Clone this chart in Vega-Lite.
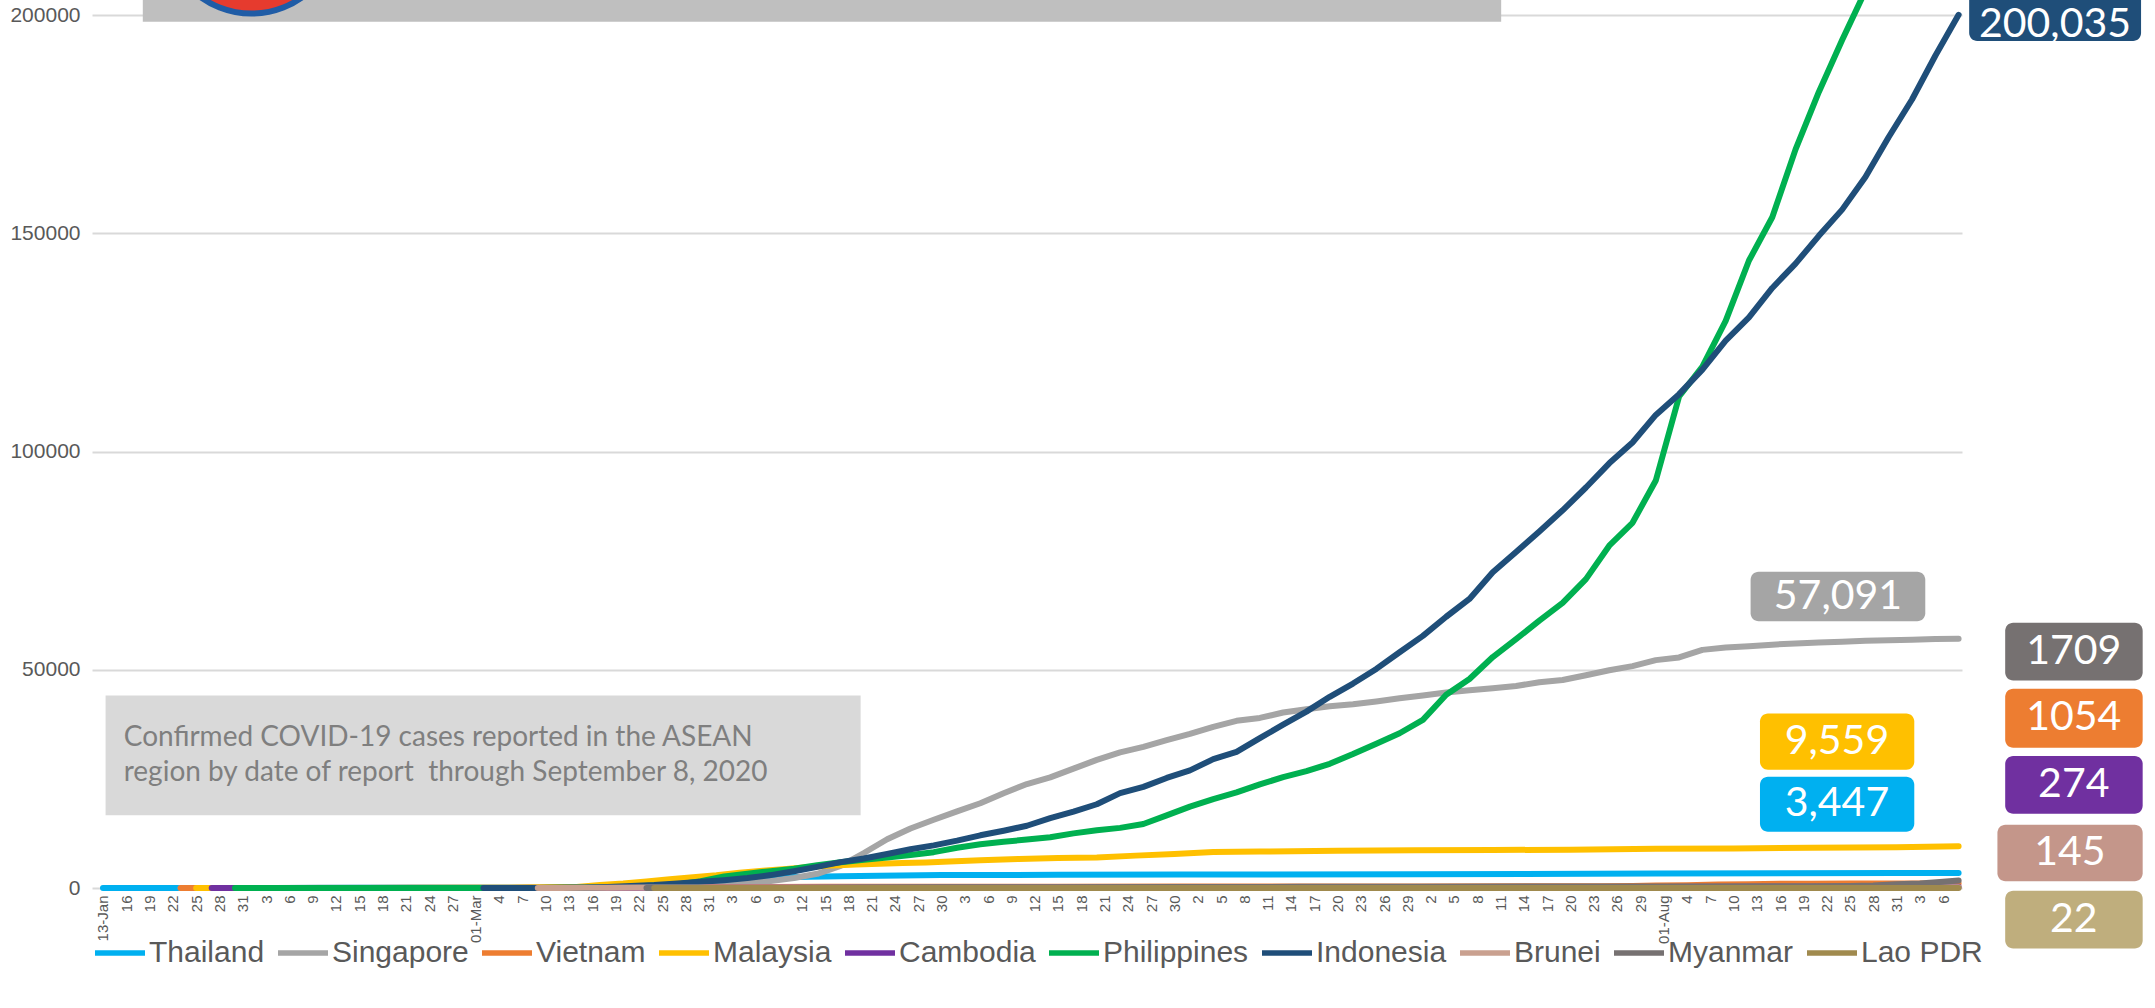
{
  "$schema": "https://vega.github.io/schema/vega-lite/v6.json",
  "width": 1870,
  "height": 873,
  "autosize": {"type": "none"},
  "padding": {"left": 92, "top": 15, "right": 193, "bottom": 120},
  "background": "white",
  "config": {"view": {"stroke": null}, "font": "Liberation Sans"},
  "datasets": {
    "cases": [
      {"country":"Thailand","date":"2020-01-13","cases":1},{"country":"Thailand","date":"2020-01-22","cases":4},{"country":"Thailand","date":"2020-01-26","cases":8},{"country":"Thailand","date":"2020-01-31","cases":19},{"country":"Thailand","date":"2020-02-05","cases":25},{"country":"Thailand","date":"2020-02-15","cases":34},{"country":"Thailand","date":"2020-02-25","cases":37},{"country":"Thailand","date":"2020-03-02","cases":42},{"country":"Thailand","date":"2020-03-08","cases":50},{"country":"Thailand","date":"2020-03-12","cases":70},{"country":"Thailand","date":"2020-03-15","cases":114},{"country":"Thailand","date":"2020-03-18","cases":212},{"country":"Thailand","date":"2020-03-21","cases":411},{"country":"Thailand","date":"2020-03-24","cases":827},{"country":"Thailand","date":"2020-03-27","cases":1136},{"country":"Thailand","date":"2020-03-30","cases":1524},{"country":"Thailand","date":"2020-04-02","cases":1875},{"country":"Thailand","date":"2020-04-05","cases":2169},{"country":"Thailand","date":"2020-04-09","cases":2423},{"country":"Thailand","date":"2020-04-13","cases":2579},{"country":"Thailand","date":"2020-04-17","cases":2700},{"country":"Thailand","date":"2020-04-22","cases":2826},{"country":"Thailand","date":"2020-04-30","cases":2954},{"country":"Thailand","date":"2020-05-15","cases":3025},{"country":"Thailand","date":"2020-05-31","cases":3081},{"country":"Thailand","date":"2020-06-30","cases":3171},{"country":"Thailand","date":"2020-07-31","cases":3310},{"country":"Thailand","date":"2020-08-31","cases":3417},{"country":"Thailand","date":"2020-09-08","cases":3447},

      {"country":"Singapore","date":"2020-01-23","cases":1},{"country":"Singapore","date":"2020-01-29","cases":10},{"country":"Singapore","date":"2020-02-04","cases":24},{"country":"Singapore","date":"2020-02-10","cases":45},{"country":"Singapore","date":"2020-02-16","cases":75},{"country":"Singapore","date":"2020-02-22","cases":89},{"country":"Singapore","date":"2020-02-28","cases":98},{"country":"Singapore","date":"2020-03-06","cases":130},{"country":"Singapore","date":"2020-03-12","cases":187},{"country":"Singapore","date":"2020-03-18","cases":313},{"country":"Singapore","date":"2020-03-22","cases":455},{"country":"Singapore","date":"2020-03-26","cases":683},{"country":"Singapore","date":"2020-03-30","cases":879},{"country":"Singapore","date":"2020-04-02","cases":1049},{"country":"Singapore","date":"2020-04-05","cases":1309},{"country":"Singapore","date":"2020-04-08","cases":1623},{"country":"Singapore","date":"2020-04-11","cases":2299},{"country":"Singapore","date":"2020-04-14","cases":3252},{"country":"Singapore","date":"2020-04-17","cases":5050},{"country":"Singapore","date":"2020-04-20","cases":8014},{"country":"Singapore","date":"2020-04-23","cases":11178},{"country":"Singapore","date":"2020-04-26","cases":13624},{"country":"Singapore","date":"2020-04-29","cases":15641},{"country":"Singapore","date":"2020-05-02","cases":17548},{"country":"Singapore","date":"2020-05-05","cases":19410},{"country":"Singapore","date":"2020-05-08","cases":21707},{"country":"Singapore","date":"2020-05-11","cases":23822},{"country":"Singapore","date":"2020-05-14","cases":25346},{"country":"Singapore","date":"2020-05-17","cases":27356},{"country":"Singapore","date":"2020-05-20","cases":29364},{"country":"Singapore","date":"2020-05-23","cases":31068},{"country":"Singapore","date":"2020-05-26","cases":32343},{"country":"Singapore","date":"2020-05-29","cases":33860},{"country":"Singapore","date":"2020-06-01","cases":35292},{"country":"Singapore","date":"2020-06-04","cases":36922},{"country":"Singapore","date":"2020-06-07","cases":38296},{"country":"Singapore","date":"2020-06-10","cases":38965},{"country":"Singapore","date":"2020-06-13","cases":40197},{"country":"Singapore","date":"2020-06-16","cases":40969},{"country":"Singapore","date":"2020-06-19","cases":41615},{"country":"Singapore","date":"2020-06-22","cases":42095},{"country":"Singapore","date":"2020-06-25","cases":42736},{"country":"Singapore","date":"2020-06-28","cases":43459},{"country":"Singapore","date":"2020-07-01","cases":44122},{"country":"Singapore","date":"2020-07-04","cases":44800},{"country":"Singapore","date":"2020-07-07","cases":45298},{"country":"Singapore","date":"2020-07-10","cases":45783},{"country":"Singapore","date":"2020-07-13","cases":46283},{"country":"Singapore","date":"2020-07-16","cases":47126},{"country":"Singapore","date":"2020-07-19","cases":47655},{"country":"Singapore","date":"2020-07-22","cases":48744},{"country":"Singapore","date":"2020-07-25","cases":49888},{"country":"Singapore","date":"2020-07-28","cases":50838},{"country":"Singapore","date":"2020-07-31","cases":52205},{"country":"Singapore","date":"2020-08-03","cases":52825},{"country":"Singapore","date":"2020-08-06","cases":54555},{"country":"Singapore","date":"2020-08-09","cases":55104},{"country":"Singapore","date":"2020-08-12","cases":55395},{"country":"Singapore","date":"2020-08-15","cases":55747},{"country":"Singapore","date":"2020-08-18","cases":56031},{"country":"Singapore","date":"2020-08-21","cases":56266},{"country":"Singapore","date":"2020-08-24","cases":56435},{"country":"Singapore","date":"2020-08-27","cases":56666},{"country":"Singapore","date":"2020-08-30","cases":56771},{"country":"Singapore","date":"2020-09-02","cases":56901},{"country":"Singapore","date":"2020-09-05","cases":57022},{"country":"Singapore","date":"2020-09-08","cases":57091},

      {"country":"Vietnam","date":"2020-01-23","cases":2},{"country":"Vietnam","date":"2020-02-01","cases":6},{"country":"Vietnam","date":"2020-02-13","cases":16},{"country":"Vietnam","date":"2020-03-05","cases":16},{"country":"Vietnam","date":"2020-03-08","cases":30},{"country":"Vietnam","date":"2020-03-15","cases":56},{"country":"Vietnam","date":"2020-03-20","cases":87},{"country":"Vietnam","date":"2020-03-25","cases":141},{"country":"Vietnam","date":"2020-03-31","cases":212},{"country":"Vietnam","date":"2020-04-07","cases":249},{"country":"Vietnam","date":"2020-04-15","cases":267},{"country":"Vietnam","date":"2020-04-30","cases":270},{"country":"Vietnam","date":"2020-05-15","cases":314},{"country":"Vietnam","date":"2020-05-31","cases":328},{"country":"Vietnam","date":"2020-06-30","cases":355},{"country":"Vietnam","date":"2020-07-24","cases":413},{"country":"Vietnam","date":"2020-07-28","cases":431},{"country":"Vietnam","date":"2020-07-31","cases":558},{"country":"Vietnam","date":"2020-08-04","cases":652},{"country":"Vietnam","date":"2020-08-08","cases":789},{"country":"Vietnam","date":"2020-08-12","cases":883},{"country":"Vietnam","date":"2020-08-16","cases":962},{"country":"Vietnam","date":"2020-08-20","cases":994},{"country":"Vietnam","date":"2020-08-25","cases":1029},{"country":"Vietnam","date":"2020-08-31","cases":1044},{"country":"Vietnam","date":"2020-09-08","cases":1054},

      {"country":"Malaysia","date":"2020-01-25","cases":3},{"country":"Malaysia","date":"2020-01-29","cases":7},{"country":"Malaysia","date":"2020-02-04","cases":10},{"country":"Malaysia","date":"2020-02-08","cases":16},{"country":"Malaysia","date":"2020-02-15","cases":22},{"country":"Malaysia","date":"2020-03-01","cases":29},{"country":"Malaysia","date":"2020-03-05","cases":50},{"country":"Malaysia","date":"2020-03-08","cases":93},{"country":"Malaysia","date":"2020-03-11","cases":149},{"country":"Malaysia","date":"2020-03-14","cases":238},{"country":"Malaysia","date":"2020-03-17","cases":673},{"country":"Malaysia","date":"2020-03-20","cases":1030},{"country":"Malaysia","date":"2020-03-23","cases":1518},{"country":"Malaysia","date":"2020-03-26","cases":2031},{"country":"Malaysia","date":"2020-03-29","cases":2470},{"country":"Malaysia","date":"2020-04-01","cases":2908},{"country":"Malaysia","date":"2020-04-04","cases":3483},{"country":"Malaysia","date":"2020-04-07","cases":3963},{"country":"Malaysia","date":"2020-04-10","cases":4346},{"country":"Malaysia","date":"2020-04-13","cases":4817},{"country":"Malaysia","date":"2020-04-16","cases":5182},{"country":"Malaysia","date":"2020-04-19","cases":5389},{"country":"Malaysia","date":"2020-04-22","cases":5532},{"country":"Malaysia","date":"2020-04-25","cases":5742},{"country":"Malaysia","date":"2020-04-28","cases":5851},{"country":"Malaysia","date":"2020-05-01","cases":6071},{"country":"Malaysia","date":"2020-05-05","cases":6383},{"country":"Malaysia","date":"2020-05-10","cases":6656},{"country":"Malaysia","date":"2020-05-15","cases":6855},{"country":"Malaysia","date":"2020-05-20","cases":7009},{"country":"Malaysia","date":"2020-05-25","cases":7417},{"country":"Malaysia","date":"2020-05-30","cases":7762},{"country":"Malaysia","date":"2020-06-04","cases":8247},{"country":"Malaysia","date":"2020-06-10","cases":8336},{"country":"Malaysia","date":"2020-06-20","cases":8535},{"country":"Malaysia","date":"2020-06-30","cases":8639},{"country":"Malaysia","date":"2020-07-10","cases":8704},{"country":"Malaysia","date":"2020-07-20","cases":8779},{"country":"Malaysia","date":"2020-07-31","cases":8976},{"country":"Malaysia","date":"2020-08-10","cases":9059},{"country":"Malaysia","date":"2020-08-20","cases":9235},{"country":"Malaysia","date":"2020-08-31","cases":9340},{"country":"Malaysia","date":"2020-09-08","cases":9559},

      {"country":"Cambodia","date":"2020-01-27","cases":1},{"country":"Cambodia","date":"2020-03-07","cases":2},{"country":"Cambodia","date":"2020-03-12","cases":5},{"country":"Cambodia","date":"2020-03-15","cases":12},{"country":"Cambodia","date":"2020-03-18","cases":35},{"country":"Cambodia","date":"2020-03-21","cases":53},{"country":"Cambodia","date":"2020-03-25","cases":91},{"country":"Cambodia","date":"2020-03-31","cases":109},{"country":"Cambodia","date":"2020-04-10","cases":119},{"country":"Cambodia","date":"2020-04-20","cases":122},{"country":"Cambodia","date":"2020-05-31","cases":125},{"country":"Cambodia","date":"2020-06-15","cases":128},{"country":"Cambodia","date":"2020-06-30","cases":141},{"country":"Cambodia","date":"2020-07-10","cases":156},{"country":"Cambodia","date":"2020-07-20","cases":171},{"country":"Cambodia","date":"2020-07-25","cases":202},{"country":"Cambodia","date":"2020-07-31","cases":239},{"country":"Cambodia","date":"2020-08-15","cases":266},{"country":"Cambodia","date":"2020-08-31","cases":274},{"country":"Cambodia","date":"2020-09-08","cases":274},

      {"country":"Philippines","date":"2020-01-30","cases":1},{"country":"Philippines","date":"2020-02-05","cases":3},{"country":"Philippines","date":"2020-03-06","cases":5},{"country":"Philippines","date":"2020-03-09","cases":24},{"country":"Philippines","date":"2020-03-12","cases":52},{"country":"Philippines","date":"2020-03-15","cases":140},{"country":"Philippines","date":"2020-03-18","cases":202},{"country":"Philippines","date":"2020-03-21","cases":307},{"country":"Philippines","date":"2020-03-24","cases":552},{"country":"Philippines","date":"2020-03-27","cases":803},{"country":"Philippines","date":"2020-03-30","cases":1546},{"country":"Philippines","date":"2020-04-02","cases":2633},{"country":"Philippines","date":"2020-04-05","cases":3246},{"country":"Philippines","date":"2020-04-08","cases":3870},{"country":"Philippines","date":"2020-04-11","cases":4428},{"country":"Philippines","date":"2020-04-14","cases":5223},{"country":"Philippines","date":"2020-04-17","cases":5878},{"country":"Philippines","date":"2020-04-20","cases":6459},{"country":"Philippines","date":"2020-04-23","cases":6981},{"country":"Philippines","date":"2020-04-26","cases":7579},{"country":"Philippines","date":"2020-04-29","cases":8212},{"country":"Philippines","date":"2020-05-02","cases":9223},{"country":"Philippines","date":"2020-05-05","cases":10004},{"country":"Philippines","date":"2020-05-08","cases":10610},{"country":"Philippines","date":"2020-05-11","cases":11086},{"country":"Philippines","date":"2020-05-14","cases":11618},{"country":"Philippines","date":"2020-05-17","cases":12513},{"country":"Philippines","date":"2020-05-20","cases":13221},{"country":"Philippines","date":"2020-05-23","cases":13777},{"country":"Philippines","date":"2020-05-26","cases":14669},{"country":"Philippines","date":"2020-05-29","cases":16634},{"country":"Philippines","date":"2020-06-01","cases":18638},{"country":"Philippines","date":"2020-06-04","cases":20382},{"country":"Philippines","date":"2020-06-07","cases":21895},{"country":"Philippines","date":"2020-06-10","cases":23732},{"country":"Philippines","date":"2020-06-13","cases":25392},{"country":"Philippines","date":"2020-06-16","cases":26781},{"country":"Philippines","date":"2020-06-19","cases":28459},{"country":"Philippines","date":"2020-06-22","cases":30682},{"country":"Philippines","date":"2020-06-25","cases":33069},{"country":"Philippines","date":"2020-06-28","cases":35455},{"country":"Philippines","date":"2020-07-01","cases":38511},{"country":"Philippines","date":"2020-07-04","cases":44254},{"country":"Philippines","date":"2020-07-07","cases":47873},{"country":"Philippines","date":"2020-07-10","cases":52914},{"country":"Philippines","date":"2020-07-13","cases":57006},{"country":"Philippines","date":"2020-07-16","cases":61266},{"country":"Philippines","date":"2020-07-19","cases":65304},{"country":"Philippines","date":"2020-07-22","cases":70764},{"country":"Philippines","date":"2020-07-25","cases":78412},{"country":"Philippines","date":"2020-07-28","cases":83673},{"country":"Philippines","date":"2020-07-31","cases":93354},{"country":"Philippines","date":"2020-08-03","cases":112593},{"country":"Philippines","date":"2020-08-06","cases":119460},{"country":"Philippines","date":"2020-08-09","cases":129913},{"country":"Philippines","date":"2020-08-12","cases":143749},{"country":"Philippines","date":"2020-08-15","cases":153660},{"country":"Philippines","date":"2020-08-18","cases":169213},{"country":"Philippines","date":"2020-08-21","cases":182365},{"country":"Philippines","date":"2020-08-24","cases":194252},{"country":"Philippines","date":"2020-08-27","cases":205581},{"country":"Philippines","date":"2020-08-30","cases":217396},{"country":"Philippines","date":"2020-09-02","cases":226440},{"country":"Philippines","date":"2020-09-05","cases":234570},{"country":"Philippines","date":"2020-09-08","cases":245143},

      {"country":"Indonesia","date":"2020-03-02","cases":2},{"country":"Indonesia","date":"2020-03-06","cases":4},{"country":"Indonesia","date":"2020-03-09","cases":19},{"country":"Indonesia","date":"2020-03-12","cases":34},{"country":"Indonesia","date":"2020-03-15","cases":117},{"country":"Indonesia","date":"2020-03-18","cases":227},{"country":"Indonesia","date":"2020-03-21","cases":450},{"country":"Indonesia","date":"2020-03-24","cases":686},{"country":"Indonesia","date":"2020-03-27","cases":1046},{"country":"Indonesia","date":"2020-03-30","cases":1414},{"country":"Indonesia","date":"2020-04-02","cases":1790},{"country":"Indonesia","date":"2020-04-05","cases":2273},{"country":"Indonesia","date":"2020-04-08","cases":2956},{"country":"Indonesia","date":"2020-04-11","cases":3842},{"country":"Indonesia","date":"2020-04-14","cases":4839},{"country":"Indonesia","date":"2020-04-17","cases":5923},{"country":"Indonesia","date":"2020-04-20","cases":6760},{"country":"Indonesia","date":"2020-04-23","cases":7775},{"country":"Indonesia","date":"2020-04-26","cases":8882},{"country":"Indonesia","date":"2020-04-29","cases":9771},{"country":"Indonesia","date":"2020-05-02","cases":10843},{"country":"Indonesia","date":"2020-05-05","cases":12071},{"country":"Indonesia","date":"2020-05-08","cases":13112},{"country":"Indonesia","date":"2020-05-11","cases":14265},{"country":"Indonesia","date":"2020-05-14","cases":16006},{"country":"Indonesia","date":"2020-05-17","cases":17514},{"country":"Indonesia","date":"2020-05-20","cases":19189},{"country":"Indonesia","date":"2020-05-23","cases":21745},{"country":"Indonesia","date":"2020-05-26","cases":23165},{"country":"Indonesia","date":"2020-05-29","cases":25216},{"country":"Indonesia","date":"2020-06-01","cases":26940},{"country":"Indonesia","date":"2020-06-04","cases":29521},{"country":"Indonesia","date":"2020-06-07","cases":31186},{"country":"Indonesia","date":"2020-06-10","cases":34316},{"country":"Indonesia","date":"2020-06-13","cases":37420},{"country":"Indonesia","date":"2020-06-16","cases":40400},{"country":"Indonesia","date":"2020-06-19","cases":43803},{"country":"Indonesia","date":"2020-06-22","cases":46845},{"country":"Indonesia","date":"2020-06-25","cases":50187},{"country":"Indonesia","date":"2020-06-28","cases":54010},{"country":"Indonesia","date":"2020-07-01","cases":57770},{"country":"Indonesia","date":"2020-07-04","cases":62142},{"country":"Indonesia","date":"2020-07-07","cases":66226},{"country":"Indonesia","date":"2020-07-10","cases":72347},{"country":"Indonesia","date":"2020-07-13","cases":76981},{"country":"Indonesia","date":"2020-07-16","cases":81668},{"country":"Indonesia","date":"2020-07-19","cases":86521},{"country":"Indonesia","date":"2020-07-22","cases":91751},{"country":"Indonesia","date":"2020-07-25","cases":97286},{"country":"Indonesia","date":"2020-07-28","cases":102051},{"country":"Indonesia","date":"2020-07-31","cases":108376},{"country":"Indonesia","date":"2020-08-03","cases":113134},{"country":"Indonesia","date":"2020-08-06","cases":118753},{"country":"Indonesia","date":"2020-08-09","cases":125396},{"country":"Indonesia","date":"2020-08-12","cases":130718},{"country":"Indonesia","date":"2020-08-15","cases":137468},{"country":"Indonesia","date":"2020-08-18","cases":143043},{"country":"Indonesia","date":"2020-08-21","cases":149408},{"country":"Indonesia","date":"2020-08-24","cases":155412},{"country":"Indonesia","date":"2020-08-27","cases":162884},{"country":"Indonesia","date":"2020-08-30","cases":172053},{"country":"Indonesia","date":"2020-09-02","cases":180646},{"country":"Indonesia","date":"2020-09-05","cases":190665},{"country":"Indonesia","date":"2020-09-08","cases":200035},

      {"country":"Brunei","date":"2020-03-09","cases":1},{"country":"Brunei","date":"2020-03-12","cases":11},{"country":"Brunei","date":"2020-03-15","cases":50},{"country":"Brunei","date":"2020-03-18","cases":73},{"country":"Brunei","date":"2020-03-22","cases":88},{"country":"Brunei","date":"2020-03-26","cases":114},{"country":"Brunei","date":"2020-03-31","cases":129},{"country":"Brunei","date":"2020-04-10","cases":136},{"country":"Brunei","date":"2020-05-01","cases":138},{"country":"Brunei","date":"2020-06-30","cases":141},{"country":"Brunei","date":"2020-07-31","cases":141},{"country":"Brunei","date":"2020-08-31","cases":144},{"country":"Brunei","date":"2020-09-08","cases":145},

      {"country":"Myanmar","date":"2020-03-23","cases":2},{"country":"Myanmar","date":"2020-03-27","cases":8},{"country":"Myanmar","date":"2020-03-31","cases":15},{"country":"Myanmar","date":"2020-04-05","cases":21},{"country":"Myanmar","date":"2020-04-10","cases":27},{"country":"Myanmar","date":"2020-04-15","cases":85},{"country":"Myanmar","date":"2020-04-20","cases":111},{"country":"Myanmar","date":"2020-04-30","cases":151},{"country":"Myanmar","date":"2020-05-15","cases":182},{"country":"Myanmar","date":"2020-05-31","cases":224},{"country":"Myanmar","date":"2020-06-15","cases":262},{"country":"Myanmar","date":"2020-06-30","cases":303},{"country":"Myanmar","date":"2020-07-15","cases":336},{"country":"Myanmar","date":"2020-07-31","cases":353},{"country":"Myanmar","date":"2020-08-15","cases":376},{"country":"Myanmar","date":"2020-08-20","cases":397},{"country":"Myanmar","date":"2020-08-25","cases":474},{"country":"Myanmar","date":"2020-08-28","cases":574},{"country":"Myanmar","date":"2020-08-31","cases":882},{"country":"Myanmar","date":"2020-09-03","cases":1059},{"country":"Myanmar","date":"2020-09-06","cases":1419},{"country":"Myanmar","date":"2020-09-08","cases":1709},

      {"country":"Lao PDR","date":"2020-03-24","cases":2},{"country":"Lao PDR","date":"2020-03-28","cases":8},{"country":"Lao PDR","date":"2020-03-31","cases":9},{"country":"Lao PDR","date":"2020-04-05","cases":11},{"country":"Lao PDR","date":"2020-04-12","cases":19},{"country":"Lao PDR","date":"2020-06-30","cases":19},{"country":"Lao PDR","date":"2020-07-31","cases":20},{"country":"Lao PDR","date":"2020-08-31","cases":22},{"country":"Lao PDR","date":"2020-09-08","cases":22}
    ],
    "labels": [
      {"country":"Indonesia","label":"200,035","x1":"2020-09-09T08:40:00Z","x2":"2020-10-01T12:00:00Z","y1":194016,"y2":207000,"xc":"2020-09-20T10:00:00Z","yc":197800},
      {"country":"Singapore","label":"57,091","x1":"2020-08-12T05:00:00Z","x2":"2020-09-03T17:00:00Z","y1":61102,"y2":72441,"xc":"2020-08-23T11:00:00Z","yc":66772},
      {"country":"Malaysia","label":"9,559","x1":"2020-08-13T10:00:00Z","x2":"2020-09-02T07:00:00Z","y1":27087,"y2":40000,"xc":"2020-08-23T08:00:00Z","yc":33543},
      {"country":"Thailand","label":"3,447","x1":"2020-08-13T10:00:00Z","x2":"2020-09-02T07:00:00Z","y1":12913,"y2":25512,"xc":"2020-08-23T08:00:00Z","yc":19213},
      {"country":"Myanmar","label":"1709","x1":"2020-09-14T00:00:00Z","x2":"2020-10-01T17:00:00Z","y1":47559,"y2":60787,"xc":"2020-09-22T20:00:00Z","yc":54173},
      {"country":"Vietnam","label":"1054","x1":"2020-09-14T00:00:00Z","x2":"2020-10-01T17:00:00Z","y1":32126,"y2":45669,"xc":"2020-09-22T20:00:00Z","yc":38898},
      {"country":"Cambodia","label":"274","x1":"2020-09-14T00:00:00Z","x2":"2020-10-01T17:00:00Z","y1":17008,"y2":30236,"xc":"2020-09-22T20:00:00Z","yc":23622},
      {"country":"Brunei","label":"145","x1":"2020-09-13T00:00:00Z","x2":"2020-10-01T17:00:00Z","y1":1575,"y2":14488,"xc":"2020-09-22T08:00:00Z","yc":8031},
      {"country":"Lao PDR","label":"22","x1":"2020-09-14T00:00:00Z","x2":"2020-10-01T17:00:00Z","y1":-13858,"y2":-630,"xc":"2020-09-22T20:00:00Z","yc":-7244}
    ]
  },
  "layer": [
    {
      "data": {"values": [{"x1":"2020-01-18T03:00:00Z","x2":"2020-07-11T02:00:00Z","y1":198425,"y2":212000}]},
      "mark": {"type": "rect", "fill": "#bfbfbf", "clip": false},
      "encoding": {
        "x": {"field": "x1", "type": "temporal", "title": null, "scale": {"type": "utc", "domain": [{"year":2020,"month":1,"date":11,"hours":14,"utc":true},{"year":2020,"month":9,"date":8,"hours":10,"minutes":30,"utc":true}]}},
        "x2": {"field": "x2"},
        "y": {"field": "y1", "type": "quantitative", "title": null, "scale": {"domain": [0, 200000], "nice": false, "zero": false}},
        "y2": {"field": "y2"}
      }
    },
    {
      "data": {"values": [{"x":"2020-02-01T03:00:00Z","y":220157}]},
      "mark": {"type": "point", "shape": "circle", "filled": true, "fill": "#e63b2e", "stroke": "#1f5ca6", "strokeWidth": 6, "opacity": 1, "size": 30000, "clip": false},
      "encoding": {
        "x": {"field": "x", "type": "temporal", "title": null},
        "y": {"field": "y", "type": "quantitative", "title": null}
      }
    },
    {
      "data": {"values": [{"x1":"2020-01-13T08:00:00Z","x2":"2020-04-19T14:00:00Z","y1":16693,"y2":44094}]},
      "mark": {"type": "rect", "fill": "#d9d9d9", "clip": false},
      "encoding": {
        "x": {"field": "x1", "type": "temporal", "title": null},
        "x2": {"field": "x2"},
        "y": {"field": "y1", "type": "quantitative", "title": null},
        "y2": {"field": "y2"}
      }
    },
    {
      "data": {"values": [{"x":"2020-01-15T16:00:00Z","y":34331}]},
      "mark": {"type": "text", "align": "left", "baseline": "middle", "font": "Lato", "fontSize": 28, "lineHeight": 35, "color": "#7f7f7f", "clip": false,
        "text": ["Confirmed COVID-19 cases reported in the ASEAN", "region by date of report \u00a0through September 8, 2020"]},
      "encoding": {
        "x": {"field": "x", "type": "temporal", "title": null},
        "y": {"field": "y", "type": "quantitative", "title": null}
      }
    },
    {
      "data": {"name": "cases"},
      "mark": {"type": "line", "strokeWidth": 6, "strokeCap": "round", "strokeJoin": "round", "clip": false},
      "encoding": {
        "x": {"field": "date", "type": "temporal", "title": null,
          "axis": {"tickCount": {"interval": "day", "step": 1},
            "labelExpr": "(round((time(datum.value) - utc(2020,0,13)) / 86400000) % 3 != 0) ? '' : ((time(datum.value) == utc(2020,0,13) || utcdate(datum.value) == 1) ? utcFormat(datum.value, '%d-%b') : utcFormat(datum.value, '%-d'))",
            "labelAngle": 270, "labelFont": "Liberation Sans", "labelFontSize": 15, "labelColor": "#595959", "labelPadding": 7,
            "labelOverlap": false, "labelBound": false, "labelFlush": false, "grid": false, "domain": false, "ticks": false, "title": null}},
        "y": {"field": "cases", "type": "quantitative", "title": null,
          "axis": {"values": [0, 50000, 100000, 150000, 200000], "format": "d", "grid": true, "gridColor": "#d9d9d9", "gridWidth": 2,
            "domain": false, "ticks": false, "labelFont": "Liberation Sans", "labelFontSize": 21, "labelColor": "#595959", "labelPadding": 12, "title": null}},
        "color": {"field": "country", "type": "nominal",
          "scale": {"domain": ["Thailand","Singapore","Vietnam","Malaysia","Cambodia","Philippines","Indonesia","Brunei","Myanmar","Lao PDR"],
                    "range": ["#00b0f0","#a5a5a5","#ed7d31","#ffc000","#7030a0","#00b050","#1f4e79","#c9a08f","#767171","#a08a4e"]},
          "legend": {"orient": "none", "legendX": 0, "legendY": 910, "direction": "horizontal", "title": null,
            "symbolType": "stroke", "symbolSize": 2500, "symbolStrokeWidth": 5.5, "labelFontSize": 30, "labelFont": "Liberation Sans",
            "labelColor": "#595959", "labelOffset": 1, "columnPadding": 2, "padding": 0, "labelLimit": 400}}
      }
    },
    {
      "data": {"name": "labels"},
      "mark": {"type": "rect", "cornerRadius": 8, "clip": false},
      "encoding": {
        "x": {"field": "x1", "type": "temporal", "title": null},
        "x2": {"field": "x2"},
        "y": {"field": "y1", "type": "quantitative", "title": null},
        "y2": {"field": "y2"},
        "color": {"field": "country", "type": "nominal", "legend": null,
          "scale": {"domain": ["Indonesia","Singapore","Malaysia","Thailand","Myanmar","Vietnam","Cambodia","Brunei","Lao PDR"],
                    "range": ["#1f4e79","#a5a5a5","#ffc000","#00b0f0","#767171","#ed7d31","#7030a0","#c4968a","#bfae7d"]}}
      }
    },
    {
      "data": {"name": "labels"},
      "mark": {"type": "text", "align": "center", "baseline": "middle", "font": "Lato", "fontSize": 41, "color": "white", "clip": false},
      "encoding": {
        "x": {"field": "xc", "type": "temporal", "title": null},
        "y": {"field": "yc", "type": "quantitative", "title": null},
        "text": {"field": "label"}
      }
    }
  ],
  "resolve": {"scale": {"color": "independent"}}
}
